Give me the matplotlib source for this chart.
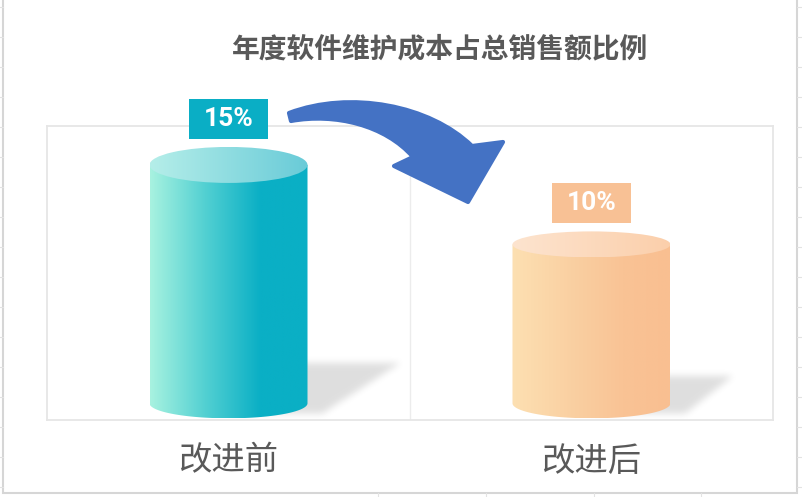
import numpy as np
import matplotlib.pyplot as plt
from matplotlib.patches import Polygon, Ellipse, Rectangle, PathPatch
from matplotlib.path import Path
from matplotlib.colors import LinearSegmentedColormap
from matplotlib.transforms import Affine2D

plt.rcParams['font.family'] = ['Noto Sans CJK SC', 'DejaVu Sans']

title = '年度软件维护成本占总销售额比例'
categories = ['改进前', '改进后']
values = [15, 10]
value_labels = ['15%', '10%']

body_colors = [['#a8f2e0', '#52d0d2', '#0aafc5', '#0aafc5'],
               ['#fde0b2', '#fad1a3', '#f9c395', '#f9bf91']]
top_colors = [['#b5eee9', '#69cbd8'],
              ['#fde4cf', '#fbcfab']]
box_colors = ['#0aaec5', '#f8c195']
text_grey = '#595959'

W, H = 803, 497
fig = plt.figure(figsize=(W / 100, H / 100), dpi=100)
fig.patch.set_facecolor('white')

# pixel helper for decorations (y measured from top)
px = Affine2D().scale(1 / W, -1 / H).translate(0, 1) + fig.transFigure

# faint spreadsheet grid outside the chart
for y in range(7, 497, 30):
    fig.add_artist(plt.Line2D([0, 3], [y, y], transform=px, color='#e3e3e3', lw=0.8))
    fig.add_artist(plt.Line2D([797, 803], [y, y], transform=px, color='#e3e3e3', lw=0.8))
for x in [378, 486, 594, 701]:
    fig.add_artist(plt.Line2D([x, x], [493, 497], transform=px, color='#e3e3e3', lw=0.8))
fig.add_artist(Rectangle((3, -5), 794, 498, transform=px, fill=False,
                         edgecolor='#d6d6d6', lw=1.5))

ax = fig.add_axes([47 / W, 77 / H, 726 / W, 294 / H])
xlim = (-0.5, 1.5)
ylim = (-1.05, 17.45)
sx = (xlim[1] - xlim[0]) / 726
sy = (ylim[1] - ylim[0]) / 294

grad = np.linspace(0, 1, 256).reshape(1, -1)


def blur(a, n=7, times=3):
    k = np.ones(n) / n
    for _ in range(times):
        a = np.apply_along_axis(lambda r: np.convolve(r, k, mode='same'), 1, a)
        a = np.apply_along_axis(lambda c: np.convolve(c, k, mode='same'), 0, a)
    return a


r_px = 79
ryb_px = 15
for i, v in enumerate(values):
    cx = i
    rx = r_px * sx
    h_px = v / sy
    ryt_px = 3 + v

    # soft shadow on the floor
    pad = 14
    sh = Path([(0, 0.17 * h_px), (r_px + 0.39 * h_px, 0.17 * h_px),
               (r_px + 14, -11), (0, -11)])
    xs = np.arange(-pad, r_px + 0.39 * h_px + pad)
    ys = np.arange(-11 - pad, 0.17 * h_px + pad)
    gx, gy = np.meshgrid(xs, ys)
    mask = sh.contains_points(np.c_[gx.ravel(), gy.ravel()]).reshape(gx.shape).astype(float)
    mask = blur(mask)
    rgba = np.zeros(mask.shape + (4,))
    rgba[..., 3] = mask * 0.13
    ax.imshow(rgba, origin='lower', aspect='auto', interpolation='bilinear', zorder=2,
              extent=(cx + xs[0] * sx, cx + xs[-1] * sx, ys[0] * sy, ys[-1] * sy))

    # cylinder body
    th = np.linspace(np.pi, 2 * np.pi, 80)
    verts = [(cx - rx, v)] + list(zip(cx + rx * np.cos(th), ryb_px * sy * np.sin(th))) + [(cx + rx, v)]
    body = Polygon(verts, closed=True, facecolor='none', edgecolor='none')
    ax.add_patch(body)
    cmap = LinearSegmentedColormap.from_list('b%d' % i, list(zip([0, 0.35, 0.7, 1], body_colors[i])))
    im = ax.imshow(grad, cmap=cmap, aspect='auto', interpolation='bilinear', zorder=3,
                   extent=(cx - rx, cx + rx, -ryb_px * sy, v))
    im.set_clip_path(body)

    # top face
    top = Ellipse((cx, v), 2 * rx, 2 * ryt_px * sy, facecolor='none', edgecolor='none')
    ax.add_patch(top)
    cmap_t = LinearSegmentedColormap.from_list('t%d' % i, top_colors[i])
    im = ax.imshow(grad, cmap=cmap_t, aspect='auto', interpolation='bilinear', zorder=4,
                   extent=(cx - rx, cx + rx, v - ryt_px * sy, v + ryt_px * sy))
    im.set_clip_path(top)

    # value label box
    by = v + (ryt_px + 28) * sy
    ax.add_patch(Rectangle((cx - 39.5 * sx, by - 20 * sy), 79 * sx, 40 * sy,
                           facecolor=box_colors[i], edgecolor='none', zorder=5,
                           clip_on=False))
    ax.text(cx, by, value_labels[i], ha='center', va='center', color='white',
            fontsize=19, fontweight='bold', zorder=6, clip_on=False,
            family=['Roboto', 'DejaVu Sans'])

ax.axvline(0.5, color='#ececec', lw=1, zorder=1)
ax.set_xlim(xlim)
ax.set_ylim(ylim)
ax.set_yticks([])
ax.set_xticks([0, 1])
ax.set_xticklabels(categories, fontsize=24, color=text_grey)
ax.tick_params(axis='x', length=0, pad=17)
for s in ax.spines.values():
    s.set_color('#e6e6e6')
    s.set_linewidth(1.3)

fig.text(440 / W, 1 - 49 / H, title, ha='center', va='center', fontsize=20,
         fontweight='bold', color=text_grey)

# curved arrow
arrow = Path([(289, 113), (350, 90), (430, 105), (472, 146), (503, 142), (468, 202),
              (394, 166), (413, 157), (385, 125), (335, 113), (291, 121), (289, 113)],
             [Path.MOVETO, Path.CURVE4, Path.CURVE4, Path.CURVE4, Path.LINETO, Path.LINETO,
              Path.LINETO, Path.LINETO, Path.CURVE4, Path.CURVE4, Path.CURVE4, Path.CLOSEPOLY])
fig.add_artist(PathPatch(arrow, transform=px, facecolor='#4472c4', edgecolor='#4472c4',
                         lw=3, joinstyle='round'))

fig.savefig('out.png', dpi=100)
